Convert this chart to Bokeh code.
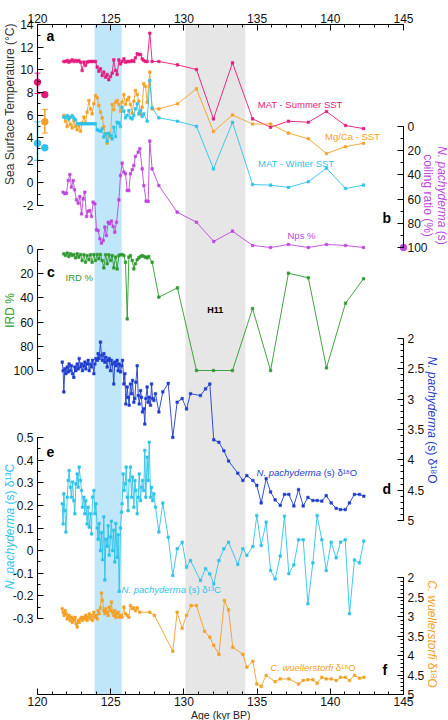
import math
from bokeh.plotting import figure
from bokeh.models import (Range1d, LinearAxis, FixedTicker, BoxAnnotation, Label,
                          CustomJSTickFormatter, Whisker, ColumnDataSource)
from bokeh.embed import file_html
from bokeh.resources import INLINE

# ---------------- data ----------------
# (a) sea surface temperature reconstructions, deg C
summer_age = [121.80, 121.91, 122.03, 122.14, 122.25, 122.37, 122.48, 122.60, 122.71, 122.82,
              122.94, 123.05, 123.17, 123.28, 123.39, 123.51, 123.62, 123.73, 123.85, 123.96,
              124.08, 124.19, 124.30, 124.42, 124.53, 124.65, 124.76, 124.87, 124.99, 125.10,
              125.21, 125.33, 125.44, 125.56, 125.67, 125.78, 125.90, 126.01, 126.13, 126.24,
              126.35, 126.47, 126.58, 126.69, 126.81, 126.92, 127.04, 127.15, 127.26, 127.38,
              127.49, 127.67, 127.83, 128.29, 129.56, 130.86, 132.02, 133.32, 134.69, 135.92,
              137.14, 138.50, 139.74, 141.04, 142.27]
summer_sst = [10.73, 10.73, 10.82, 10.67, 10.76, 10.87, 10.73, 10.82, 10.73, 10.82,
              10.67, 9.93, 10.67, 10.38, 10.67, 10.73, 10.73, 10.73, 10.73, 10.73,
              10.23, 9.87, 10.08, 9.49, 9.79, 9.34, 9.58, 9.11, 9.40, 9.70,
              10.87, 9.93, 9.58, 10.87, 10.52, 10.73, 10.96, 10.67, 10.73, 10.73,
              10.73, 10.82, 10.73, 11.05, 11.41, 11.35, 11.35, 10.96, 10.82, 10.73,
              10.73, 13.23, 10.73, 10.73, 10.43, 10.02, 5.66, 10.61, 5.66, 4.92,
              5.45, 5.36, 6.31, 5.07, 4.80]

mgca_age = [121.80, 121.91, 122.03, 122.14, 122.25, 122.37, 122.48, 122.60, 122.71, 122.82,
            122.94, 123.05, 123.17, 123.28, 123.39, 123.51, 123.62, 123.73, 123.85, 123.96,
            124.08, 124.19, 124.30, 124.42, 124.53, 124.65, 124.76, 124.87, 124.99, 125.10,
            125.21, 125.33, 125.44, 125.56, 125.67, 125.78, 125.90, 126.01, 126.13, 126.24,
            126.35, 126.47, 126.58, 126.69, 126.81, 126.92, 127.04, 127.15, 127.26, 127.38,
            127.49, 127.67, 127.83, 128.29, 129.56, 130.86, 132.02, 133.32, 134.69, 135.92,
            137.14, 138.50, 139.74, 141.04, 142.27]
mgca_sst = [5.95, 5.45, 4.98, 5.81, 5.16, 4.86, 5.51, 4.98, 4.69, 5.07,
            4.57, 5.28, 5.81, 5.28, 6.25, 7.28, 6.54, 6.10, 6.99, 7.72,
            7.52, 6.84, 6.25, 5.75, 4.98, 4.33, 3.51, 4.33, 4.04, 6.93,
            6.46, 7.13, 7.28, 6.93, 6.34, 7.13, 7.81, 6.93, 7.34, 7.57,
            6.93, 6.16, 7.22, 8.17, 7.81, 7.22, 6.04, 6.69, 8.75, 8.52,
            7.13, 9.79, 6.54, 6.54, 6.99, 8.31, 4.54, 6.00, 5.20, 5.20,
            4.40, 3.90, 2.60, 3.20, 3.50]

winter_age = [121.80, 121.91, 122.03, 122.14, 122.25, 122.37, 122.48, 122.60, 122.71, 122.82,
              122.94, 123.05, 123.17, 123.28, 123.39, 123.51, 123.62, 123.73, 123.85, 123.96,
              124.08, 124.19, 124.30, 124.42, 124.53, 124.65, 124.76, 124.87, 124.99, 125.10,
              125.21, 125.33, 125.44, 125.56, 125.67, 125.78, 125.90, 126.01, 126.13, 126.24,
              126.35, 126.47, 126.58, 126.69, 126.81, 126.92, 127.04, 127.15, 127.26, 127.49,
              127.67, 127.83, 128.29, 129.56, 130.86, 132.02, 133.32, 134.69, 135.92, 137.14,
              138.50, 139.74, 141.04, 142.27]
winter_sst = [5.81, 5.75, 5.95, 5.66, 5.81, 5.95, 5.75, 5.57, 5.22, 5.22,
              5.22, 5.22, 5.22, 5.22, 5.22, 5.22, 5.22, 5.22, 5.22, 5.22,
              4.69, 4.63, 4.57, 4.78, 4.04, 4.33, 3.68, 4.39, 4.19, 3.89,
              4.92, 4.10, 5.36, 5.28, 4.98, 6.69, 6.34, 5.75, 5.95, 6.40,
              5.75, 5.66, 5.95, 6.54, 6.99, 6.10, 6.40, 5.87, 6.10, 5.45,
              9.05, 6.63, 5.75, 5.45, 5.00, 1.24, 5.35, -0.15, -0.20, -0.40,
              0.10, 1.30, -0.50, -0.20]

# modern (core-top) SST values with their ranges
modern_summer_age, modern_summer, modern_summer_lo, modern_summer_hi = [120.0, 120.5], [8.9, 7.8], [7.9, None], [9.7, None]
modern_winter_age, modern_winter, modern_winter_lo, modern_winter_hi = [120.0, 120.5], [3.5, 3.1], [2.0, None], [5.4, None]
modern_mgca_age, modern_mgca, modern_mgca_lo, modern_mgca_hi = [120.5], [5.4], [4.4], [6.5]

# (b) N. pachyderma (s) coiling ratio, %
nps_age = [121.75, 121.87, 121.98, 122.10, 122.21, 122.32, 122.44, 122.53, 122.66, 122.78,
           122.89, 123.01, 123.12, 123.23, 123.35, 123.46, 123.57, 123.69, 123.80, 123.92,
           124.03, 124.14, 124.26, 124.37, 124.49, 124.60, 124.71, 124.83, 124.94, 125.05,
           125.17, 125.28, 125.40, 125.56, 125.67, 125.78, 125.90, 126.01, 126.13, 126.24,
           126.35, 126.47, 126.58, 126.69, 126.88, 126.99, 127.15, 127.26, 127.42, 127.56,
           127.67, 127.83, 128.29, 129.54, 130.86, 132.04, 133.32, 134.69, 135.92, 137.14,
           138.50, 139.74, 141.04, 142.27]
nps_pct = [54.3, 55.6, 55.1, 44.6, 39.7, 50.1, 44.6, 52.3, 60.6, 63.4,
           57.9, 72.2, 59.8, 54.3, 74.4, 70.0, 69.4, 74.4, 62.5, 63.9,
           85.4, 85.9, 92.8, 96.4, 94.2, 83.2, 90.1, 79.1, 80.4, 78.2,
           82.6, 87.3, 79.1, 60.6, 40.5, 30.3, 37.7, 39.1, 52.9, 52.9,
           39.1, 35.8, 32.2, 24.8, 21.2, 18.4, 35.0, 48.8, 61.7, 62.0,
           12.1, 35.0, 48.8, 70.8, 79.1, 95.0, 86.5, 98.3, 100.0, 97.5,
           100.0, 97.5, 98.3, 100.0]
modern_nps_age, modern_nps = [145.0], [100.0]

# (c) ice rafted debris, %
ird_age = [121.80, 121.91, 122.03, 122.14, 122.25, 122.37, 122.48, 122.60, 122.71, 122.82,
           122.94, 123.05, 123.17, 123.28, 123.39, 123.51, 123.62, 123.73, 123.85, 123.96,
           124.08, 124.19, 124.30, 124.42, 124.53, 124.65, 124.76, 124.87, 124.99, 125.10,
           125.21, 125.33, 125.44, 125.56, 125.67, 125.78, 125.90, 126.01, 126.13, 126.24,
           126.35, 126.47, 126.58, 126.69, 126.81, 126.92, 127.04, 127.15, 127.26, 127.38,
           127.49, 127.60, 127.83, 128.29, 129.56, 130.86, 132.02, 133.32, 134.69, 135.92,
           137.14, 138.50, 139.74, 141.04, 142.27]
ird_pct = [3.6, 5.0, 3.0, 5.8, 3.6, 5.0, 4.1, 6.9, 3.6, 6.3,
           4.1, 9.1, 4.4, 10.5, 5.0, 8.5, 4.4, 10.5, 4.1, 9.1,
           4.1, 7.7, 4.1, 9.1, 15.2, 4.4, 11.8, 4.4, 9.1, 5.0,
           15.2, 6.3, 16.0, 5.0, 4.4, 4.1, 5.0, 10.5, 57.3, 6.3,
           5.0, 9.1, 16.0, 11.8, 8.5, 6.9, 5.8, 5.0, 5.8, 6.3,
           6.9, 5.8, 10.5, 39.4, 31.7, 100.0, 100.0, 100.0, 48.8, 100.0,
           19.6, 23.4, 97.8, 44.4, 24.2]

# (d) N. pachyderma (s) d18O, per mil
d18o_age = [121.69, 121.75, 121.80, 121.87, 121.94, 122.03, 122.10, 122.16, 122.25, 122.32,
            122.39, 122.48, 122.55, 122.62, 122.71, 122.78, 122.85, 122.94, 123.01, 123.07,
            123.17, 123.23, 123.30, 123.39, 123.46, 123.53, 123.62, 123.69, 123.76, 123.85,
            123.92, 123.99, 124.08, 124.14, 124.21, 124.30, 124.37, 124.44, 124.53, 124.60,
            124.67, 124.76, 124.83, 124.90, 124.99, 125.05, 125.12, 125.21, 125.28, 125.35,
            125.44, 125.51, 125.58, 125.67, 125.74, 125.81, 125.90, 125.97, 126.03, 126.13,
            126.19, 126.26, 126.35, 126.42, 126.49, 126.58, 126.65, 126.72, 126.81, 126.88,
            126.95, 127.04, 127.10, 127.17, 127.26, 127.33, 127.40, 127.49, 127.56, 127.63,
            127.72, 127.79, 127.86, 127.95, 128.06, 128.29, 128.56, 128.93, 129.24, 129.54,
            129.88, 130.18, 130.45, 131.13, 131.48, 131.77, 132.04, 132.39, 132.73, 133.05,
            133.68, 134.03, 134.30, 134.71, 134.98, 135.28, 135.62, 135.92, 136.23, 136.58,
            136.87, 137.17, 137.51, 137.83, 138.15, 138.47, 138.81, 139.10, 139.42, 139.72,
            140.06, 140.40, 140.70, 141.02, 141.31, 141.65, 141.99, 142.29]
d18o_nps = [2.39, 2.53, 2.88, 2.50, 2.58, 2.47, 2.55, 2.42, 2.53, 2.45,
            2.58, 2.64, 2.47, 2.53, 2.42, 2.50, 2.33, 2.47, 2.42, 2.53,
            2.45, 2.39, 2.50, 2.42, 2.36, 2.53, 2.42, 2.47, 2.36, 2.58,
            2.42, 2.33, 2.36, 2.25, 2.33, 2.06, 2.28, 2.36, 2.25, 2.39,
            2.31, 2.47, 2.36, 2.33, 2.53, 2.36, 2.42, 2.75, 2.39, 2.45,
            2.36, 2.53, 2.42, 2.55, 2.45, 2.36, 2.75, 2.58, 3.08, 2.80,
            2.97, 3.10, 2.75, 2.91, 2.69, 3.05, 2.99, 2.72, 2.45, 2.94,
            3.08, 2.86, 2.97, 3.21, 3.16, 3.41, 2.99, 2.80, 3.05, 2.97,
            3.10, 2.75, 2.99, 3.02, 2.91, 3.21, 2.88, 2.74, 3.63, 3.05,
            2.99, 3.16, 2.91, 2.94, 2.83, 2.75, 3.67, 3.71, 3.85, 4.02,
            4.22, 4.34, 4.26, 4.34, 4.42, 4.71, 4.31, 4.53, 4.66, 4.75,
            4.57, 4.57, 4.76, 4.49, 4.76, 4.62, 4.67, 4.67, 4.68, 4.59,
            4.71, 4.80, 4.82, 4.82, 4.71, 4.57, 4.57, 4.60]

# (e) N. pachyderma (s) d13C, per mil
d13c_age = [121.69, 121.75, 121.80, 121.87, 121.94, 122.03, 122.10, 122.16, 122.25, 122.32,
            122.39, 122.48, 122.55, 122.62, 122.71, 122.78, 122.85, 122.94, 123.01, 123.07,
            123.17, 123.23, 123.30, 123.39, 123.46, 123.53, 123.62, 123.69, 123.76, 123.85,
            123.92, 123.99, 124.08, 124.14, 124.21, 124.30, 124.37, 124.44, 124.53, 124.60,
            124.67, 124.76, 124.83, 124.90, 124.99, 125.05, 125.12, 125.21, 125.28, 125.35,
            125.44, 125.51, 125.58, 125.67, 125.74, 125.78, 125.85, 125.92, 125.99, 126.06,
            126.13, 126.19, 126.26, 126.35, 126.42, 126.49, 126.58, 126.65, 126.72, 126.81,
            126.88, 126.95, 127.04, 127.10, 127.17, 127.26, 127.33, 127.40, 127.49, 127.56,
            127.63, 127.72, 127.79, 127.86, 127.95, 128.06, 128.29, 128.56, 128.93, 129.24,
            129.54, 129.88, 130.18, 130.45, 131.13, 131.48, 131.77, 132.04, 132.39, 132.73,
            133.05, 133.68, 134.03, 134.30, 134.71, 134.98, 135.28, 135.62, 135.92, 136.23,
            136.58, 136.87, 137.17, 137.51, 137.83, 138.15, 138.47, 138.81, 139.10, 139.42,
            139.72, 140.06, 140.40, 140.70, 141.02, 141.31, 141.65, 141.99, 142.29]
d13c_nps = [0.207, 0.118, 0.251, 0.177, 0.082, 0.236, 0.310, 0.354, 0.280, 0.236,
            0.303, 0.221, 0.163, 0.295, 0.339, 0.280, 0.369, 0.310, 0.266, 0.192,
            0.236, 0.163, 0.221, 0.118, 0.192, 0.104, 0.163, 0.074, 0.236, 0.266,
            0.163, 0.207, 0.10, 0.05, 0.12, 0.0, 0.08, -0.04, 0.15, -0.13,
            0.05, 0.02, 0.11, -0.02, 0.06, 0.13, 0.0, 0.09, -0.05, 0.12,
            -0.03, 0.07, -0.18, 0.10, 0.17, 0.207, 0.339, 0.266, 0.295, 0.369,
            0.236, 0.177, 0.310, 0.369, 0.236, 0.325, 0.192, 0.310, 0.266, 0.163,
            0.236, 0.339, 0.221, 0.280, 0.310, 0.266, 0.443, 0.236, 0.413, 0.310,
            0.479, 0.236, 0.280, 0.221, 0.251, 0.192, 0.082, 0.210, 0.059, -0.110,
            0.008, 0.037, -0.073, -0.044, -0.132, -0.080, -0.103, -0.147, -0.044, 0.008,
            0.037, -0.061, 0.008, -0.021, 0.018, 0.155, 0.023, 0.126, -0.088, -0.125,
            -0.024, 0.152, -0.102, -0.063, 0.048, 0.048, -0.235, -0.054, 0.155, 0.048,
            -0.088, 0.037, -0.032, 0.037, 0.048, -0.279, -0.041, -0.054, 0.042]

# (f) C. wuellerstorfi d18O, per mil
cw_age = [121.69, 121.75, 121.82, 121.89, 121.96, 122.03, 122.10, 122.16, 122.23, 122.30,
          122.37, 122.44, 122.51, 122.57, 122.64, 122.71, 122.78, 122.85, 122.94, 123.01,
          123.07, 123.17, 123.23, 123.30, 123.39, 123.46, 123.53, 123.62, 123.69, 123.76,
          123.85, 123.92, 123.99, 124.08, 124.14, 124.21, 124.30, 124.37, 124.44, 124.53,
          124.60, 124.67, 124.76, 124.83, 124.90, 124.99, 125.05, 125.12, 125.21, 125.28,
          125.35, 125.44, 125.51, 125.58, 125.67, 125.78, 125.90, 126.01, 126.13, 126.24,
          126.35, 126.47, 126.58, 126.69, 126.81, 126.99, 127.67, 127.99, 129.24, 129.54,
          129.88, 130.18, 130.50, 130.86, 131.41, 131.77, 132.04, 132.39, 132.77, 133.05,
          133.34, 134.03, 134.30, 134.71, 134.98, 135.28, 135.62, 136.23, 136.58, 137.17,
          137.83, 138.15, 138.47, 138.81, 139.10, 139.42, 139.72, 140.06, 140.40, 140.70,
          141.02, 141.31, 141.65, 141.99, 142.29]
cw_d18o = [2.80, 2.89, 2.97, 2.85, 2.93, 3.06, 3.02, 2.97, 3.10, 3.02,
           3.15, 3.06, 3.10, 3.02, 3.19, 3.27, 3.10, 3.15, 3.06, 3.02,
           3.10, 3.02, 3.06, 2.97, 3.10, 3.02, 2.93, 3.06, 2.97, 3.10,
           2.89, 3.02, 2.97, 3.06, 2.85, 2.93, 2.78, 2.40, 2.59, 2.85,
           2.93, 2.80, 2.89, 2.97, 2.76, 2.85, 2.63, 2.89, 2.97, 2.85,
           3.02, 2.93, 2.89, 3.02, 2.97, 3.02, 2.76, 2.93, 2.97, 3.02,
           2.72, 2.80, 2.78, 2.85, 2.78, 2.89, 2.89, 2.97, 3.89, 2.89,
           3.30, 2.97, 2.72, 2.72, 3.38, 3.53, 3.74, 3.97, 2.59, 2.83,
           3.79, 3.97, 4.30, 4.15, 4.73, 4.79, 4.51, 4.67, 4.60, 4.60,
           4.73, 4.64, 4.62, 4.62, 4.71, 4.56, 4.60, 4.60, 4.64, 4.56,
           4.56, 4.64, 4.51, 4.58, 4.56]

# shaded intervals (kyr BP)
lig_band = (123.9, 125.75)
h11_band = (130.1, 134.2)

# axis ticks
age_ticks = [120, 125, 130, 135, 140, 145]
sst_ticks = [-2, 0, 2, 4, 6, 8, 10, 12, 14]
nps_ticks = [0, 20, 40, 60, 80, 100]
ird_ticks = [0, 20, 40, 60, 80, 100]
d18o_ticks = [2, 2.5, 3, 3.5, 4, 4.5, 5]
d13c_ticks = [-0.3, -0.2, -0.1, 0, 0.1, 0.2, 0.3, 0.4, 0.5]
cw_ticks = [2, 2.5, 3, 3.5, 4, 4.5, 5]

# ---------------- styling ----------------
FONT = "Liberation Sans"
PINK = "#e5197c"
ORANGE = "#f4a024"
CYAN = "#2ec3ea"
PURPLE = "#bd46dc"
GREEN = "#2f982f"
BLUE = "#1f3dcf"
BAND_BLUE = "#bfe7f9"
BAND_GRAY = "#e6e6e6"

W, H = 448, 720
# canvas position of the age axis box
LEFT, RIGHT, TOP, BOTTOM = 37, 403, 24, 694
KYR_PX = (RIGHT - LEFT) / 25.0

# the frame covers the whole canvas; every axis is pinned at a fixed location
p = figure(width=W, height=H,
           x_range=Range1d(120 - LEFT / KYR_PX, 145 + (W - RIGHT) / KYR_PX),
           y_range=Range1d(H, 0),
           x_axis_type=None, y_axis_type=None, toolbar_location=None,
           output_backend="svg", min_border=0)
p.outline_line_color = None
p.background_fill_color = "white"
p.border_fill_color = "white"
# canvas-pixel x range, used to place text around the axes
p.extra_x_ranges = {"px": Range1d(0, W)}


def panel_range(v_a, py_a, v_b, py_b):
    """Linear value range whose v_a / v_b land on canvas rows py_a / py_b."""
    k = (v_b - v_a) / (py_b - py_a)
    return Range1d(start=v_a + (H - py_a) * k, end=v_a + (0 - py_a) * k)


p.extra_y_ranges = {
    "sst": panel_range(14, 24, -2, 205),
    "nps": panel_range(0, 126, 100, 247),
    "ird": panel_range(0, 249, 100, 370),
    "d18o": panel_range(2, 338, 5, 520),
    "d13c": panel_range(0.5, 437, -0.3, 618),
    "cw": panel_range(2, 577, 5, 694),
}

p.add_layout(BoxAnnotation(left=lig_band[0], right=lig_band[1], top=TOP, bottom=BOTTOM,
                           fill_color=BAND_BLUE, fill_alpha=1, line_color=None, level="underlay"))
p.add_layout(BoxAnnotation(left=h11_band[0], right=h11_band[1], top=TOP, bottom=BOTTOM,
                           fill_color=BAND_GRAY, fill_alpha=1, line_color=None, level="underlay"))

fmt = CustomJSTickFormatter(code="return String(Math.round(tick * 100) / 100);")


def subticks(ticks, n):
    out = []
    for a, b in zip(ticks[:-1], ticks[1:]):
        for i in range(n):
            out.append(round(a + (b - a) * i / n, 6))
    out.append(ticks[-1])
    return out


def style_axis(ax):
    ax.axis_line_color = "black"
    ax.axis_line_width = 1
    ax.major_tick_in = 6
    ax.major_tick_out = 0
    ax.minor_tick_in = 3
    ax.minor_tick_out = 0
    ax.major_tick_line_color = "black"
    ax.minor_tick_line_color = "black"
    ax.major_label_text_font = FONT
    ax.major_label_text_font_size = "12px"
    ax.major_label_text_color = "#111111"
    ax.major_label_standoff = 4
    ax.formatter = fmt


def value_axis(side, rname, ticks, nsub):
    loc = 120 if side == "left" else 145
    ax = LinearAxis(y_range_name=rname, fixed_location=loc, bounds=(min(ticks), max(ticks)),
                    ticker=FixedTicker(ticks=ticks, minor_ticks=subticks(ticks, nsub)))
    style_axis(ax)
    p.add_layout(ax, side)


value_axis("left", "sst", sst_ticks, 2)
value_axis("left", "ird", ird_ticks, 2)
value_axis("left", "d13c", d13c_ticks, 2)
value_axis("right", "nps", nps_ticks, 2)
value_axis("right", "d18o", d18o_ticks, 5)
value_axis("right", "cw", cw_ticks, 5)

for side, loc in (("above", TOP), ("below", BOTTOM)):
    ax = LinearAxis(fixed_location=loc, bounds=(120, 145),
                    ticker=FixedTicker(ticks=age_ticks, minor_ticks=subticks(age_ticks, 5)))
    style_axis(ax)
    ax.major_label_standoff = 2
    p.add_layout(ax, side)


def series(x, y, rname, color, size=2.6):
    p.line(x, y, y_range_name=rname, line_color=color, line_width=0.9)
    p.scatter(x, y, y_range_name=rname, marker="square", size=size,
              fill_color=color, line_color=color, line_width=0.5)


series(summer_age, summer_sst, "sst", PINK)
series(mgca_age, mgca_sst, "sst", ORANGE)
series(winter_age, winter_sst, "sst", CYAN)
series(nps_age, nps_pct, "nps", PURPLE)
series(ird_age, ird_pct, "ird", GREEN)
series(d18o_age, d18o_nps, "d18o", BLUE)
series(d13c_age, d13c_nps, "d13c", CYAN)
series(cw_age, cw_d18o, "cw", ORANGE)

# modern reference values drawn on / next to the age axis
for ages, vals, lo, hi, color in ((modern_summer_age, modern_summer, modern_summer_lo, modern_summer_hi, PINK),
                                  (modern_winter_age, modern_winter, modern_winter_lo, modern_winter_hi, CYAN),
                                  (modern_mgca_age, modern_mgca, modern_mgca_lo, modern_mgca_hi, ORANGE)):
    bx = [a for a, l in zip(ages, lo) if l is not None]
    bl = [l for l in lo if l is not None]
    bh = [h for h in hi if h is not None]
    src = ColumnDataSource(dict(base=bx, lower=bl, upper=bh))
    wk = Whisker(base="base", lower="lower", upper="upper", source=src, dimension="height",
                 y_range_name="sst", line_color=color, line_width=1.5)
    wk.upper_head.size = 6
    wk.lower_head.size = 6
    wk.upper_head.line_color = color
    wk.lower_head.line_color = color
    p.add_layout(wk)
    p.scatter(ages, vals, y_range_name="sst", marker="circle", size=6.5,
              fill_color=color, line_color=color)
p.scatter(modern_nps_age, modern_nps, y_range_name="nps", marker="circle", size=6.5,
          fill_color=PURPLE, line_color=PURPLE)

# ---------------- text ----------------
_ADV = {" ": 278, ".": 278, "(": 333, ")": 333, "%": 889, "-": 333, "/": 278, "°": 400,
        "δ": 556, "¹": 333, "³": 333, "⁸": 333,
        "A": 667, "B": 667, "C": 722, "D": 722, "E": 667, "H": 722, "I": 278, "M": 833,
        "N": 722, "O": 778, "R": 722, "S": 667, "T": 611, "W": 944,
        "a": 556, "b": 556, "c": 500, "d": 556, "e": 556, "f": 278, "g": 556, "h": 556,
        "i": 222, "l": 222, "m": 833, "n": 556, "o": 556, "p": 556, "r": 333, "s": 500,
        "t": 278, "u": 556, "w": 722, "y": 500}


def adv(s, size):
    return sum(_ADV.get(ch, 556) for ch in s) * size / 1000.0


def text(parts, x, y, color, size, angle=0.0, align="center", bold=False):
    """Place a run of text pieces (text, italic) starting/centred at canvas (x, y)."""
    total = sum(adv(t, size) for t, _ in parts)
    ux, uy = math.cos(angle), -math.sin(angle)
    pos = {"left": 0.0, "center": -total / 2, "right": -total}[align]
    for t, italic in parts:
        lead = len(t) - len(t.lstrip(" "))
        pos += adv(" " * lead, size)
        body = t.strip(" ")
        style = "bold" if bold else ("italic" if italic else "normal")
        p.add_layout(Label(x=x + ux * pos, y=y + uy * pos, x_range_name="px", text=body,
                           angle=angle, text_align="left", text_baseline="middle",
                           text_font=FONT, text_font_size=f"{size}px",
                           text_font_style=style, text_color=color))
        pos += adv(t, size) - adv(" " * lead, size)


UP, DOWN = math.pi / 2, -math.pi / 2

# axis titles
text([("Sea Surface Temperature (°C)", False)], 9, 103, "#333333", 12, UP)
text([("IRD %", False)], 9, 310, GREEN, 12, UP)
text([("N. pachyderma", True), (" (s) δ¹³C", False)], 9, 526, CYAN, 12, UP)
text([("N. pachyderma", True), (" (s)", False)], 441, 195, PURPLE, 12, DOWN)
text([("coiling ratio (%)", False)], 427, 195, PURPLE, 12, DOWN)
text([("N. pachyderma", True), (" (s) δ¹⁸O", False)], 431, 419, BLUE, 12, DOWN)
text([("C. wuellerstorfi", True), (" δ¹⁸O", False)], 431, 633, ORANGE, 12, DOWN)
text([("Age (kyr BP)", False)], 220, 714, "#222222", 10.5)

# series labels
text([("MAT - Summer SST", False)], 300, 104, PINK, 9.5)
text([("Mg/Ca - SST", False)], 352, 136, ORANGE, 9.5)
text([("MAT - Winter SST", False)], 296, 163, CYAN, 9.5)
text([("Nps %", False)], 301, 235, PURPLE, 9.5)
text([("IRD %", False)], 65, 277, GREEN, 9.5, align="left")
text([("N. pachyderma", True), (" (s) δ¹⁸O", False)], 306, 472, BLUE, 9.5)
text([("N. pachyderma", True), (" (s) δ¹³C", False)], 121, 589, CYAN, 9.5, align="left")
text([("C. wuellerstorfi", True), (" δ¹⁸O", False)], 312, 667, ORANGE, 9.5)
text([("H11", False)], 215, 309, "black", 9, bold=True)

# panel letters
for letter, lx, ly in (("a", 50, 35), ("b", 386, 217), ("c", 50, 271),
                       ("d", 386, 488), ("e", 50, 451), ("f", 384, 669)):
    text([(letter, False)], lx, ly, "black", 14, bold=True)

open("out.html", "w").write(file_html(p, INLINE))
